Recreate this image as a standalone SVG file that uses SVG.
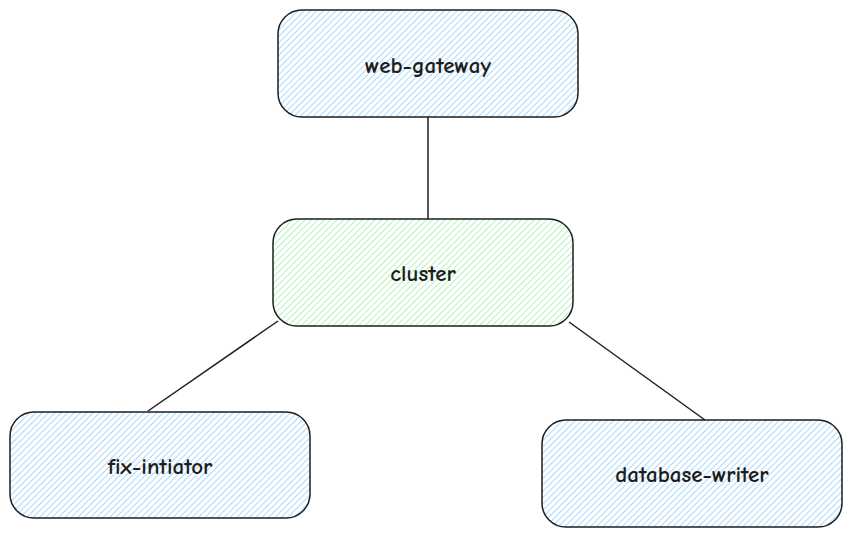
<svg xmlns="http://www.w3.org/2000/svg" width="852" height="537" viewBox="0 0 852 537">
<defs>
<pattern id="hb" patternUnits="userSpaceOnUse" width="4.5" height="4.5" patternTransform="rotate(-45)">
<line x1="0" y1="2.25" x2="4.5" y2="2.25" stroke="#a5d8ff" stroke-width="1"/>
</pattern>
<pattern id="hg" patternUnits="userSpaceOnUse" width="4.5" height="4.5" patternTransform="rotate(-45)">
<line x1="0" y1="2.25" x2="4.5" y2="2.25" stroke="#b2f2bb" stroke-width="1"/>
</pattern>
<style>
.box{stroke:#1e1e1e;stroke-width:1.5;}
.blue{fill:url(#hb);}
.green{fill:url(#hg);}
.lbl{font-family:"Comic Neue","Liberation Sans",sans-serif;font-size:23px;font-weight:bold;fill:#1e1e1e;text-anchor:middle;dominant-baseline:central;}
.edge{stroke:#1e1e1e;stroke-width:1.5;fill:none;}
</style>
</defs>
<rect width="852" height="537" fill="#ffffff"/>
<g id="connectors">
<line class="edge" x1="428" y1="117" x2="428" y2="219"/>
<line class="edge" x1="278" y1="321" x2="148" y2="411"/>
<line class="edge" x1="569" y1="322" x2="705" y2="420"/>
</g>
<g id="web-gateway">
<rect class="box blue" x="278" y="10" width="300" height="107" rx="24"/>
<text class="lbl" x="428" y="65">web-gateway</text>
</g>
<g id="cluster">
<rect class="box green" x="273" y="219" width="300" height="107" rx="24"/>
<text class="lbl" x="423" y="273">cluster</text>
</g>
<g id="fix-intiator">
<rect class="box blue" x="10" y="412" width="300" height="106" rx="24"/>
<text class="lbl" x="160" y="466">fix-intiator</text>
</g>
<g id="database-writer">
<rect class="box blue" x="542" y="420" width="300" height="107" rx="24"/>
<text class="lbl" x="692" y="474">database-writer</text>
</g>
</svg>
